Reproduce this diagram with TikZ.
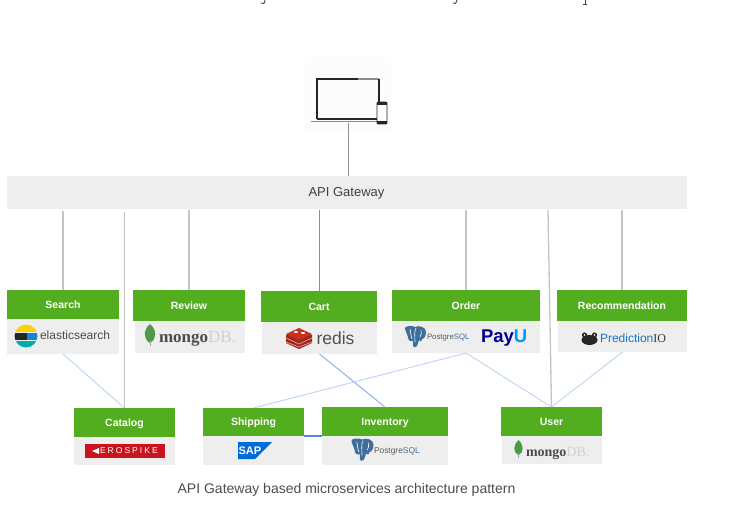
\documentclass[tikz,border=0pt]{standalone}
\usepackage{fontspec}
\setmainfont{Liberation Sans}
\newfontfamily\serifface{Liberation Serif}
\newfontfamily\spacedface[LetterSpace=24]{Liberation Sans}
\definecolor{hdgreen}{HTML}{52AE1E}
\definecolor{bodygray}{HTML}{EEEEEE}
\definecolor{linegray}{HTML}{C4C4C4}
\definecolor{paleblue}{HTML}{BCD2F2}
\definecolor{midblue}{HTML}{8FB2EA}
\definecolor{linkblue}{HTML}{5A8ADB}
\definecolor{leafgreen}{HTML}{4F9A46}
\definecolor{pgblue}{HTML}{3F6E9C}
\definecolor{redisred}{HTML}{C8301F}
\definecolor{aerored}{HTML}{C9141F}
\tikzset{
  hdbox/.style={fill=hdgreen,text=white,inner sep=0pt,outer sep=0pt,font=\fontsize{10.5}{12}\selectfont\bfseries,anchor=north west,text height=7.5pt,text depth=0pt},
  bodybox/.style={fill=bodygray,inner sep=0pt,outer sep=0pt,anchor=north west},
  route/.style={draw=linegray,line width=1.3pt},
  routethin/.style={draw=gray!85,line width=0.8pt},
  bluelink/.style={draw=paleblue,line width=0.9pt},
  bluemid/.style={draw=midblue,line width=1pt},
  logotext/.style={inner sep=0pt,outer sep=0pt,anchor=west}
}
% head and body of one service: name, left, top, width, head height, body left, body width, body bottom
\newcommand{\svc}[9]{%
  \node[bodybox,minimum width=#7 pt,minimum height=#8 pt] (#1b) at (#6,#3+#5) {};
  \node[hdbox,minimum width=#4 pt,minimum height=#5 pt] (#1) at (#2,#3) {#9};
}
\newcommand{\leaf}[3]{% x,y,scale
  \begin{scope}[shift={(#1,#2)},scale=#3]
    \fill[leafgreen] (0,-11) .. controls (7,-5) and (7,4) .. (0,8) .. controls (-7,4) and (-7,-5) .. (0,-11) -- cycle;
    \draw[gray!70,line width=.5pt] (0,6) -- (0,11);
  \end{scope}}
\newcommand{\elephant}[3]{%
  \begin{scope}[shift={(#1,#2)},scale=#3]
    \fill[pgblue] (-10,-8) .. controls (-12,-11) and (-2,-12) .. (0,-10) .. controls (4,-12) and (11,-10) .. (11,-5)
      .. controls (11,-1) and (9,2) .. (7,2) .. controls (7,5) and (4,5) .. (4,3) -- (2,9) .. controls (1,11) and (-2,11) .. (-2,8)
      -- (-2,4) .. controls (-5,5) and (-7,3) .. (-7,0) .. controls (-8,-3) and (-9,-5) .. (-10,-8) -- cycle;
    \draw[white,line width=.6pt] (-5,-8) .. controls (-4,-3) and (-4,0) .. (-3,2)  (1,-9) .. controls (-1,-5) and (0,-1) .. (0,5)  (6,-7) .. controls (7,-4) and (6,-2) .. (5,0);
  \end{scope}}
\begin{document}
\begin{tikzpicture}[x=1pt,y=-1pt]
\useasboundingbox (0,0) rectangle (736,530);
% cut-off text descenders at the top edge
\draw[black!75,line width=.9pt,line cap=round] (265,0) .. controls (265,4) and (263,4) .. (261,3);
\draw[black!75,line width=.9pt,line cap=round] (457,0) .. controls (456,4) and (455,4) .. (453,3);
\draw[black!75,line width=.9pt] (585,0) -- (585,4) (583,4) -- (587,4);

% client device
\fill[black!1] (305,57) rectangle (391,132);
\node[inner sep=0pt] (device) at (348,122) {};
\draw[black!85,line width=1.4pt] (317,119) -- (317,79) -- (358,79);
\draw[black!45,line width=1.4pt] (358,79) -- (379,79);
\draw[black!85,line width=1.4pt] (379,79) -- (379,102);
\draw[black!85,line width=1.4pt] (317,119) -- (377,119);
\draw[black!45,line width=1.8pt] (311,121.5) -- (378,121.5);
\draw[black!85,line width=.9pt,fill=white,rounded corners=1pt] (377,102) rectangle (387,124);
\fill[black!85] (377,102) rectangle (387,104.5);
\fill[black!85] (377,121) rectangle (387,124);

% gateway
\node[bodybox,minimum width=680pt,minimum height=33pt,text=black!75] (gw) at (7,176) {};
\node[inner sep=0pt,font=\fontsize{13}{15}\selectfont,text=black!75] (gwlabel) at (346.5,193.5) {API Gateway};

% services
\svc{search}{7}{290}{112}{29}{7}{112}{35}{Search}
\svc{review}{133}{290}{112}{31}{135}{110}{32}{Review}
\svc{cart}{261}{291}{116}{31}{262}{115}{32}{Cart}
\svc{order}{392}{290}{148}{31}{392}{148}{32}{Order}
\svc{rec}{557}{290}{130}{31}{558}{129}{31}{Recommendation}
\svc{catalog}{74}{408}{101}{29}{74}{101}{28}{Catalog}
\svc{shipping}{203}{408}{101}{28}{203}{101}{29}{Shipping}
\svc{inventory}{322}{407}{126}{29}{322}{126}{29}{Inventory}
\svc{user}{501}{407}{101}{29}{502}{100}{28}{User}

% connectors from the gateway
\draw[routethin] (device) -- (device |- gw.north);
\coordinate (gwsearch) at (63,211);
\coordinate (gwcat) at (124.5,212);
\coordinate (gwuser) at (548,210);
\draw[route] (gwsearch) -- (search.north -| gwsearch);
\draw[route] (gwcat) -- (catalog.north);
\draw[route] (gw.south -| review.north) ++(0,1) -- (review.north);
\draw[route,line width=1pt,draw=gray!90] (gw.south -| cart.north) ++(0,1) -- (cart.north);
\draw[route] (gw.south -| order.north) ++(0,1) -- (order.north);
\draw[route] (gwuser) -- (user.north);
\draw[route] (gw.south -| rec.north) ++(0,1) -- (rec.north);

% links between services
\draw[bluelink] (searchb.south) -- (catalog.north);
\draw[bluemid] (cartb.south) -- (inventory.north);
\draw[bluelink] (orderb.south) -- (shipping.north);
\draw[bluelink] (orderb.south) -- (user.north);
\draw[bluelink] (recb.south) -- (user.north);
\draw[draw=linkblue,line width=1.1pt] (shipping.south east) -- (inventory.south west);

% elasticsearch
\begin{scope}
  \clip (26,336) ellipse [x radius=11.5,y radius=11.5];
  \fill[yellow!70!orange] (14,324) rectangle (38,331.5);
  \fill[black!85] (14,332.5) rectangle (27,339.5);
  \fill[cyan!70!blue] (27,332.5) rectangle (38,339.5);
  \fill[teal!65!cyan] (14,340.5) rectangle (38,348);
\end{scope}
\node[logotext,font=\fontsize{12}{14}\selectfont,text=black!70] (esname) at (40,335) {elasticsearch};

% mongoDB
\leaf{150}{335}{1}
\node[logotext,font=\serifface\fontsize{17}{19}\selectfont,text=black!70] (m1) at (159,339) {\textbf{mongo}\textcolor{black!18}{DB.}};
\leaf{518.5}{449}{.8}
\node[logotext,font=\serifface\fontsize{14}{16}\selectfont,text=black!70] (m2) at (526,453) {\textbf{mongo}\textcolor{black!18}{DB.}};

% redis
\begin{scope}[shift={(299,339)}]
  \fill[redisred!80!black] (-13,-4) -- (0,-10) -- (13,-4) -- (13,4) -- (0,10) -- (-13,4) -- cycle;
  \fill[redisred] (-13,-5) -- (0,-11) -- (13,-5) -- (0,1) -- cycle;
  \draw[white!70!redisred,line width=.5pt] (-13,-1) -- (0,5) -- (13,-1) (-13,3) -- (0,8) -- (13,3);
  \fill[white] (-3,-7) ellipse [x radius=2,y radius=1];
  \fill[white] (4,-6) ellipse [x radius=2,y radius=1];
\end{scope}
\node[logotext,font=\fontsize{17.5}{19}\selectfont,text=black!68] (redisname) at (316.5,338) {redis};

% PostgreSQL
\elephant{415}{337}{1}
\node[logotext,font=\fontsize{7.8}{9}\selectfont,text=black!65] (pg1) at (427,338) {Postgre\textcolor{pgblue}{SQL}};
\elephant{362}{450}{1.05}
\node[logotext,font=\fontsize{8.4}{9}\selectfont,text=black!65] (pg2) at (374,451) {Postgre\textcolor{pgblue}{SQL}};

% PayU
\node[logotext,font=\fontsize{18.5}{20}\selectfont\bfseries,text=blue!55!black] (payu) at (481,338) {Pay\textcolor{blue!40!cyan}{U}};

% PredictionIO
\begin{scope}[shift={(589.5,339)}]
  \fill[black!85] (0,1) ellipse [x radius=8,y radius=5];
  \fill[black!85] (-5,-4) circle [radius=2.6];
  \fill[black!85] (5,-4) circle [radius=2.6];
  \fill[white] (-5,-4) circle [radius=.9];
  \fill[white] (5,-4) circle [radius=.9];
\end{scope}
\node[logotext,font=\fontsize{12}{14}\selectfont,text=cyan!55!blue] (pio) at (600,338) {Prediction\textcolor{black!80}{\serifface IO}};

% SAP
\fill[blue!50!cyan!85!black] (238,442) -- (272,442) -- (255,459) -- (238,459) -- cycle;
\node[logotext,font=\fontsize{11}{13}\selectfont\bfseries,text=white] (sap) at (238.5,451) {SAP};

% Aerospike
\node[fill=aerored,inner sep=0pt,outer sep=0pt,minimum width=80pt,minimum height=14pt,anchor=north west] (aero) at (85,444) {};
\fill[white] (92,451) -- (99,448) -- (99,454) -- cycle;
\node[logotext,font=\spacedface\fontsize{8.5}{10}\selectfont,text=white] (aeroname) at (100,451) {EROSPIKE};

% caption
\node[inner sep=0pt,font=\fontsize{14}{16}\selectfont,text=black!70] (caption) at (346.5,490) {API Gateway based microservices architecture pattern};
\end{tikzpicture}
\end{document}
